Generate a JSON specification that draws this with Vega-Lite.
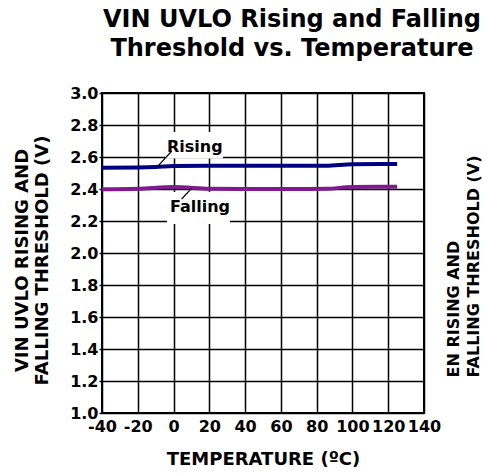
{
  "$schema": "https://vega.github.io/schema/vega-lite/v6.json",
  "width": 322,
  "height": 320,
  "autosize": {"type": "none"},
  "padding": {"left": 102, "top": 93, "right": 63, "bottom": 60},
  "background": "white",
  "title": {
    "text": ["VIN UVLO Rising and Falling", "Threshold vs. Temperature"],
    "font": "DejaVu Sans",
    "fontWeight": "bold",
    "fontSize": 24,
    "lineHeight": 29,
    "color": "black",
    "anchor": "middle",
    "dx": 29,
    "offset": 24
  },
  "config": {
    "view": {"stroke": "black", "strokeWidth": 2},
    "axis": {
      "labelFont": "DejaVu Sans",
      "labelFontWeight": "bold",
      "labelFontSize": 16,
      "labelColor": "black",
      "titleFont": "DejaVu Sans",
      "titleFontWeight": "bold",
      "titleColor": "black",
      "gridColor": "black",
      "gridWidth": 1.5,
      "gridOpacity": 1,
      "domain": false,
      "tickColor": "black"
    }
  },
  "datasets": {
    "lines": [
      {"series": "Rising", "temp": -40, "v": 2.533},
      {"series": "Rising", "temp": -20, "v": 2.534},
      {"series": "Rising", "temp": -10, "v": 2.537},
      {"series": "Rising", "temp": 0, "v": 2.544},
      {"series": "Rising", "temp": 20, "v": 2.545},
      {"series": "Rising", "temp": 40, "v": 2.545},
      {"series": "Rising", "temp": 60, "v": 2.545},
      {"series": "Rising", "temp": 85, "v": 2.545},
      {"series": "Rising", "temp": 100, "v": 2.554},
      {"series": "Rising", "temp": 125, "v": 2.556},
      {"series": "Falling", "temp": -40, "v": 2.398},
      {"series": "Falling", "temp": -20, "v": 2.401},
      {"series": "Falling", "temp": 0, "v": 2.412},
      {"series": "Falling", "temp": 20, "v": 2.402},
      {"series": "Falling", "temp": 40, "v": 2.4},
      {"series": "Falling", "temp": 60, "v": 2.4},
      {"series": "Falling", "temp": 85, "v": 2.401},
      {"series": "Falling", "temp": 100, "v": 2.413},
      {"series": "Falling", "temp": 125, "v": 2.414}
    ],
    "boxes": [
      {"temp": -4.8, "temp2": 27.6, "v": 2.756, "v2": 2.59},
      {"temp": -3.7, "temp2": 31.5, "v": 2.381, "v2": 2.181}
    ],
    "leaders": [
      {"temp": -8.5, "v": 2.546, "temp2": -1.0, "v2": 2.6375},
      {"temp": 10.1, "v": 2.404, "temp2": 4.5, "v2": 2.3375}
    ],
    "labels": [
      {"temp": -3.7, "v": 2.631, "label": "Rising"},
      {"temp": -2.0, "v": 2.256, "label": "Falling"}
    ]
  },
  "resolve": {"axis": {"y": "independent"}},
  "layer": [
    {
      "encoding": {
        "x": {
          "field": "temp",
          "type": "quantitative",
          "scale": {"domain": [-40, 140], "nice": false, "zero": false},
          "axis": {
            "values": [-40, -20, 0, 20, 40, 60, 80, 100, 120, 140],
            "labelExpr": "datum.value < 0 ? '-' + abs(datum.value) : '' + datum.value",
            "grid": true,
            "ticks": false,
            "tickSize": 0,
            "labelPadding": 5,
            "labelFlush": false,
            "labelOverlap": false,
            "title": "TEMPERATURE (ºC)",
            "titleFontSize": 18,
            "titlePadding": 16
          }
        },
        "y": {
          "field": "v",
          "type": "quantitative",
          "scale": {"domain": [1, 3], "nice": false, "zero": false},
          "axis": {
            "values": [1, 1.2, 1.4, 1.6, 1.8, 2, 2.2, 2.4, 2.6, 2.8, 3],
            "format": ".1f",
            "grid": true,
            "ticks": true,
            "tickSize": 3,
            "tickWidth": 1.5,
            "labelPadding": 1,
            "labelFlush": false,
            "labelOverlap": false,
            "title": ["VIN UVLO RISING AND", "FALLING THRESHOLD (V)"],
            "titleFontSize": 18,
            "titleLineHeight": 20,
            "titleAngle": 270,
            "titleAlign": "center",
            "titleBaseline": "top",
            "titleX": -89,
            "titleY": 167
          }
        }
      },
      "layer": [
        {
          "data": {"name": "boxes"},
          "mark": {"type": "rect", "fill": "white"},
          "encoding": {"x2": {"field": "temp2"}, "y2": {"field": "v2"}}
        },
        {
          "data": {"name": "lines"},
          "mark": {"type": "line", "strokeWidth": 4, "interpolate": "monotone"},
          "encoding": {
            "color": {
              "field": "series",
              "type": "nominal",
              "scale": {"domain": ["Rising", "Falling"], "range": ["#000080", "#80188f"]},
              "legend": null
            }
          }
        },
        {
          "data": {"name": "leaders"},
          "mark": {"type": "rule", "color": "black", "strokeWidth": 1.2},
          "encoding": {"x2": {"field": "temp2"}, "y2": {"field": "v2"}}
        },
        {
          "data": {"name": "labels"},
          "mark": {
            "type": "text",
            "align": "left",
            "baseline": "alphabetic",
            "font": "DejaVu Sans",
            "fontWeight": "bold",
            "fontSize": 16,
            "color": "black"
          },
          "encoding": {"text": {"field": "label"}}
        }
      ]
    },
    {
      "data": {"name": "lines"},
      "mark": {"type": "line", "strokeOpacity": 0},
      "encoding": {
        "x": {
          "field": "temp",
          "type": "quantitative",
          "scale": {"domain": [-40, 140], "nice": false, "zero": false},
          "axis": {
            "values": [-40, -20, 0, 20, 40, 60, 80, 100, 120, 140],
            "labelExpr": "datum.value < 0 ? '-' + abs(datum.value) : '' + datum.value",
            "grid": true,
            "ticks": false,
            "tickSize": 0,
            "labelPadding": 5,
            "labelFlush": false,
            "labelOverlap": false,
            "title": "TEMPERATURE (ºC)",
            "titleFontSize": 18,
            "titlePadding": 16
          }
        },
        "y": {
          "field": "v",
          "type": "quantitative",
          "axis": {
            "orient": "right",
            "labels": false,
            "ticks": false,
            "grid": false,
            "domain": false,
            "title": ["EN RISING AND", "FALLING THRESHOLD (V)"],
            "titleFontSize": 16,
            "titleLineHeight": 20,
            "titleAngle": 270,
            "titleAlign": "left",
            "titleBaseline": "top",
            "titleX": 21,
            "titleY": 284
          }
        }
      }
    }
  ]
}
